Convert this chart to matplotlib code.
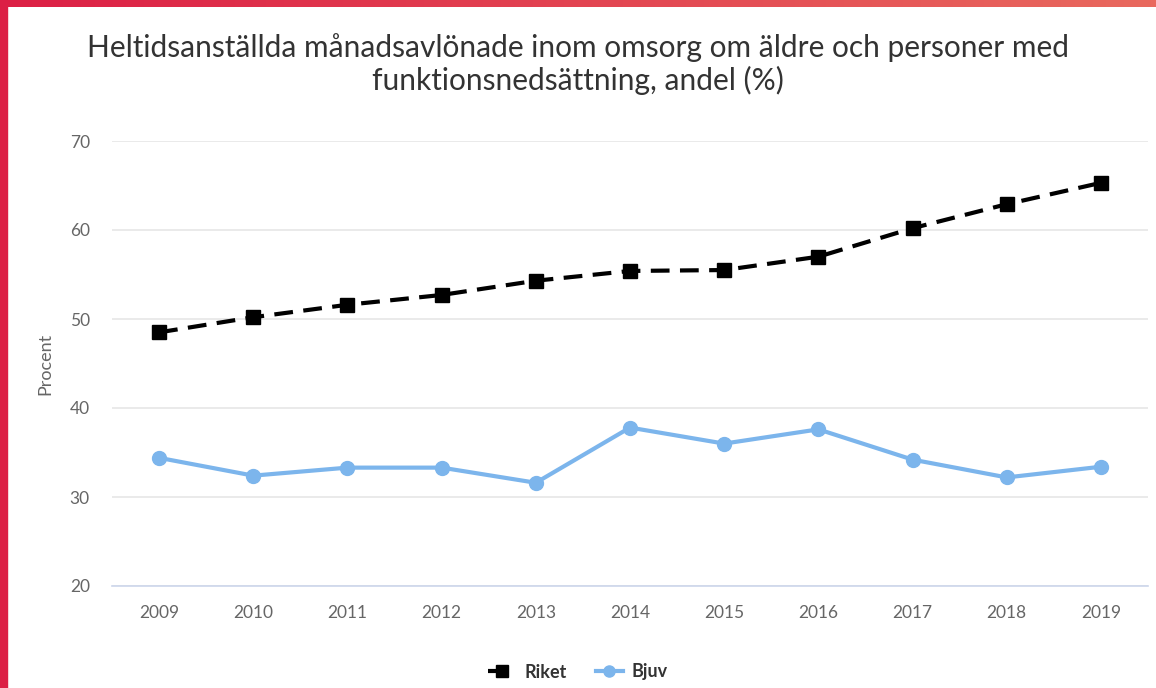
import matplotlib
matplotlib.use("Agg")
import matplotlib.pyplot as plt
from matplotlib.patches import Rectangle
from matplotlib.colors import LinearSegmentedColormap
import numpy as np

# dados
years = ["2009", "2010", "2011", "2012", "2013", "2014", "2015", "2016", "2017", "2018", "2019"]
riket = [48.5, 50.2, 51.6, 52.7, 54.3, 55.4, 55.5, 57.0, 60.2, 62.9, 65.3]
bjuv = [34.4, 32.4, 33.3, 33.3, 31.6, 37.8, 36.0, 37.6, 34.2, 32.2, 33.4]
yticks = [20, 30, 40, 50, 60, 70]

TITLE = "Heltidsanställda månadsavlönade inom omsorg om äldre och personer med\nfunktionsnedsättning, andel (%)"

plt.rcParams["font.family"] = ["Lato", "DejaVu Sans"]

W, H = 1156, 688
fig = plt.figure(figsize=(W / 100, H / 100), dpi=100)

# borda vermelha (esquerda + topo em degradê)
fig.patches.append(Rectangle((0, 0), 7 / W, 1, transform=fig.transFigure,
                             color="#dc1f45", zorder=0))
grad = np.linspace(0, 1, 256).reshape(1, -1)
gax = fig.add_axes([0, 1 - 7 / H, 1, 7 / H])
cmap = LinearSegmentedColormap.from_list("borda", ["#dc1f45", "#e9695e"])
gax.imshow(grad, aspect="auto", cmap=cmap)
gax.axis("off")

ax = fig.add_axes([112 / W, 1 - 586 / H, (1148 - 112) / W, (586 - 141) / H])
x = np.arange(len(years))

ax.plot(x, riket, color="black", lw=3, ls=(0, (4.5, 2.5)), marker="s",
        ms=10, label="Riket", zorder=3)
ax.plot(x, bjuv, color="#7cb5ec", lw=3, marker="o", ms=10,
        label="Bjuv", zorder=3)

ax.set_xlim(-0.5, len(years) - 0.5)
ax.set_ylim(20, 70)
ax.set_yticks(yticks)
ax.set_xticks(x)
ax.set_xticklabels(years)
ax.grid(axis="y", color="#e6e6e6", lw=1.2)
ax.set_axisbelow(True)
for s in ["top", "right", "left"]:
    ax.spines[s].set_visible(False)
ax.spines["bottom"].set_color("#ccd6eb")
ax.spines["bottom"].set_linewidth(1.2)
ax.tick_params(axis="both", length=0, labelsize=12.5, labelcolor="#666666")
ax.tick_params(axis="x", pad=14)
ax.tick_params(axis="y", pad=16)
ax.set_ylabel("Procent", fontsize=13, color="#666666", labelpad=12)

fig.text(0.5, 1 - 64 / H, TITLE, ha="center", va="center", fontsize=21.5,
         color="#333333", linespacing=1.2)

leg = fig.legend(loc="center", bbox_to_anchor=(0.5, 1 - 672 / H), ncol=2,
                 frameon=False, fontsize=13, handlelength=1.5,
                 handletextpad=0.5, columnspacing=1.6, markerscale=0.8)
for t in leg.get_texts():
    t.set_fontweight("bold")
    t.set_color("#333333")

fig.savefig("out.png", dpi=100)
plt.close(fig)
